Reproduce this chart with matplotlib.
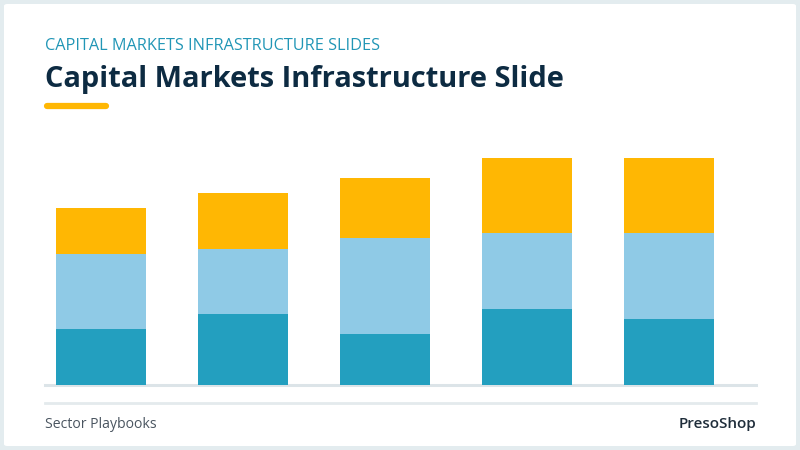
import matplotlib.pyplot as plt
from matplotlib.patches import FancyBboxPatch
import numpy as np

# data (segment heights, bottom to top)
categories = ['A', 'B', 'C', 'D', 'E']
base = [22, 28, 20, 30, 26]
middle = [30, 26, 38, 30, 34]
top = [18, 22, 24, 30, 30]

c_base = '#239fbf'
c_mid = '#8fcae6'
c_top = '#ffb703'

W, H = 800, 450
fig = plt.figure(figsize=(8, 4.5), dpi=100)
fig.patch.set_facecolor('#e3ecef')

# white card
card = FancyBboxPatch((4 / W, 4 / H), 792 / W, 442 / H, boxstyle='round,pad=0,rounding_size=0.004',
                      transform=fig.transFigure, facecolor='white', edgecolor='none', zorder=-10)
fig.patches.append(card)

plt.rcParams['font.family'] = ['Open Sans', 'DejaVu Sans']

fig.text(45 / W, 1 - 46 / H, 'CAPITAL MARKETS INFRASTRUCTURE SLIDES', color='#2196b6',
         fontsize=11.7, va='center', ha='left')
fig.text(45 / W, 1 - 80 / H, 'Capital Markets Infrastructure Slide', color='#0d2b42',
         fontsize=20.9, fontweight='bold', va='center', ha='left')
fig.add_artist(plt.Line2D([47 / W, 106 / W], [1 - 106 / H, 1 - 106 / H], transform=fig.transFigure,
                          color=c_top, linewidth=4.5, solid_capstyle='round'))

# chart area: baseline at y=385px, ~2.53 px per unit
ax = fig.add_axes([45 / W, 1 - 385 / H, 711 / W, 235 / H])
ax.set_facecolor('none')
x = np.arange(len(categories))
b0 = np.array(base)
b1 = b0 + np.array(middle)
ax.bar(x, base, width=0.634, color=c_base, zorder=3)
ax.bar(x, middle, width=0.634, bottom=b0, color=c_mid, zorder=3)
ax.bar(x, top, width=0.634, bottom=b1, color=c_top, zorder=3)
ax.set_xlim(-0.398, 4.613)
ax.set_ylim(0, 93)
ax.axhline(0, color='#dce4e8', linewidth=2.2, zorder=2, clip_on=False)
for s in ax.spines.values():
    s.set_visible(False)
ax.set_xticks([])
ax.set_yticks([])

# footer
fig.add_artist(plt.Line2D([45 / W, 756 / W], [1 - 403 / H, 1 - 403 / H], transform=fig.transFigure,
                          color='#e4eaed', linewidth=2))
fig.text(45 / W, 1 - 424 / H, 'Sector Playbooks', color='#4a5560', fontsize=10.1, va='center', ha='left')
fig.text(756 / W, 1 - 424 / H, 'PresoShop', color='#1f2d3a', fontsize=11, fontweight='semibold',
         va='center', ha='right')

fig.savefig('out.png', dpi=100, facecolor=fig.get_facecolor())
